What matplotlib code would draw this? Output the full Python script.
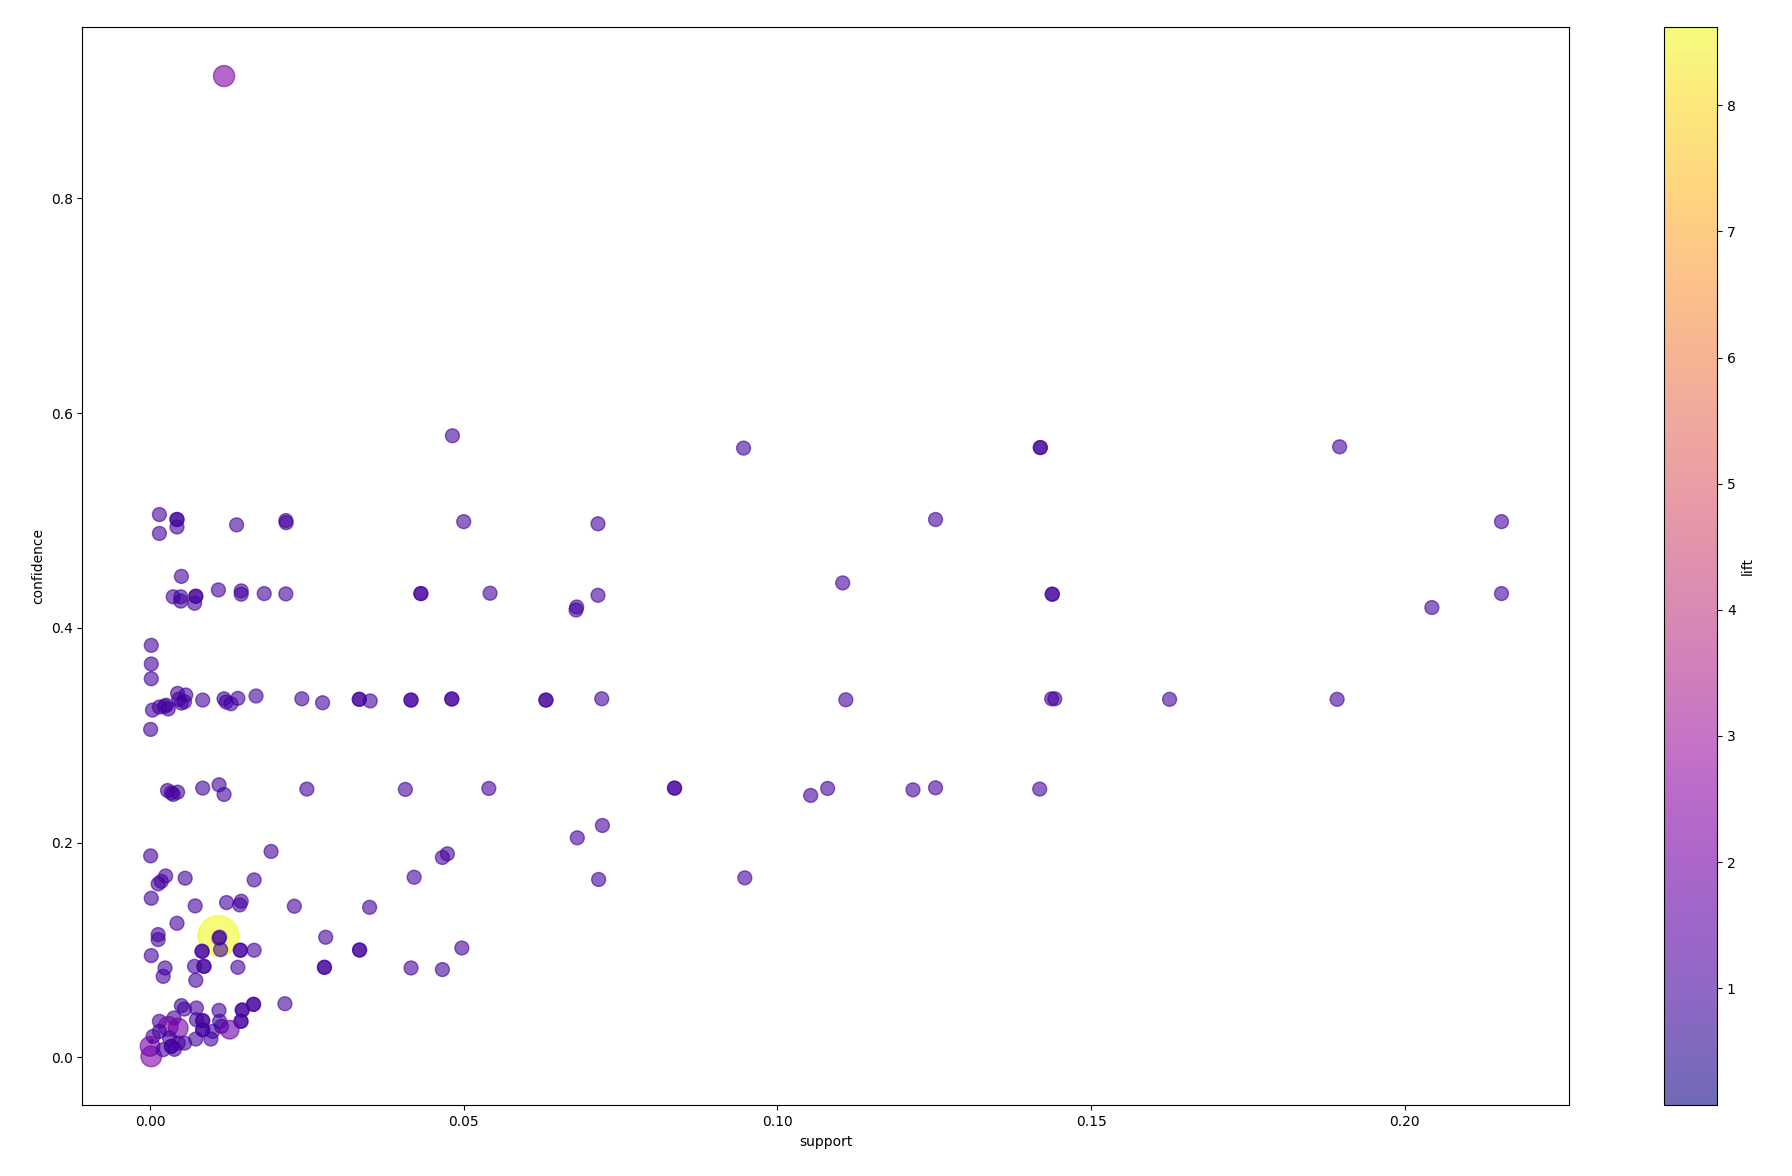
import matplotlib
matplotlib.use("Agg")
import matplotlib.pyplot as plt
import numpy as np

# association rules: (support, confidence, lift)
rules = [
    (0.0118, 0.914, 2.3),
    (0.0482, 0.579, 1.0), (0.0946, 0.5675, 1.0), (0.1419, 0.568, 1.0), (0.1419, 0.568, 1.0),
    (0.1896, 0.5687, 1.0),
    # ~0.5
    (0.0015, 0.5056, 1.0), (0.0043, 0.501, 1.0), (0.0043, 0.501, 1.0), (0.0043, 0.494, 1.0),
    (0.0015, 0.488, 1.0), (0.0138, 0.496, 1.0), (0.02165, 0.500, 1.0), (0.0217, 0.498, 1.0),
    (0.0500, 0.499, 1.0), (0.0714, 0.497, 1.0), (0.1252, 0.501, 1.0), (0.2154, 0.499, 1.0),
    # ~0.43
    (0.0050, 0.448, 1.0), (0.0037, 0.429, 1.0), (0.0049, 0.429, 1.0), (0.0049, 0.425, 1.0),
    (0.0073, 0.4295, 1.0), (0.0073, 0.4295, 1.0), (0.0071, 0.423, 1.0), (0.0109, 0.4354, 1.0),
    (0.01454, 0.4345, 1.0), (0.01454, 0.4314, 1.0), (0.0182, 0.432, 1.0), (0.02165, 0.4317, 1.0),
    (0.04317, 0.432, 1.0), (0.04317, 0.432, 1.0), (0.0542, 0.4323, 1.0), (0.0680, 0.4195, 1.0),
    (0.0679, 0.4167, 1.0), (0.0714, 0.4304, 1.0), (0.1104, 0.4419, 1.0), (0.1438, 0.4314, 1.0),
    (0.1438, 0.4314, 1.0), (0.2043, 0.419, 1.0), (0.2154, 0.432, 1.0),
    # x ~ 0 column
    (0.0002, 0.3838, 1.0), (0.0002, 0.3664, 1.0), (0.0002, 0.3527, 1.0), (0.0001, 0.3055, 1.0),
    (0.0004, 0.3235, 1.0),
    # ~0.333
    (0.0015, 0.3263, 1.0), (0.0026, 0.328, 1.0), (0.0029, 0.3245, 1.0), (0.0023, 0.327, 1.0),
    (0.0044, 0.339, 1.0), (0.0046, 0.3335, 1.0), (0.0050, 0.330, 1.0), (0.0057, 0.3375, 1.0),
    (0.0055, 0.3313, 1.0), (0.0084, 0.3328, 1.0), (0.0118, 0.334, 1.0), (0.01215, 0.331, 1.0),
    (0.0129, 0.3294, 1.0), (0.0140, 0.3344, 1.0), (0.0169, 0.3366, 1.0), (0.0242, 0.334, 1.0),
    (0.0275, 0.3303, 1.0), (0.03336, 0.3335, 1.0), (0.03336, 0.3335, 1.0), (0.0351, 0.332, 1.0),
    (0.0416, 0.3328, 1.0), (0.0416, 0.3328, 1.0), (0.0481, 0.3338, 1.0), (0.0481, 0.3338, 1.0),
    (0.0631, 0.3328, 1.0), (0.0631, 0.3328, 1.0), (0.0720, 0.334, 1.0), (0.1109, 0.3331, 1.0),
    (0.1437, 0.334, 1.0), (0.1442, 0.334, 1.0), (0.1625, 0.3335, 1.0), (0.1892, 0.3335, 1.0),
    # ~0.25
    (0.0028, 0.2486, 1.0), (0.0034, 0.2464, 1.0), (0.0037, 0.2449, 1.0), (0.0044, 0.247, 1.0),
    (0.0084, 0.2508, 1.0), (0.0110, 0.2539, 1.0), (0.0118, 0.2449, 1.0), (0.0250, 0.2499, 1.0),
    (0.0407, 0.2496, 1.0), (0.0540, 0.2505, 1.0), (0.0836, 0.2508, 1.0), (0.0836, 0.2508, 1.0),
    (0.1053, 0.244, 1.0), (0.1080, 0.2505, 1.0), (0.1216, 0.2492, 1.0), (0.1252, 0.2511, 1.0),
    (0.1418, 0.2499, 1.0),
    # 0.1 - 0.22
    (0.0721, 0.216, 1.0), (0.0681, 0.2045, 1.0), (0.0474, 0.1896, 1.0), (0.0466, 0.1862, 1.0),
    (0.0421, 0.1678, 1.0), (0.0715, 0.1657, 1.0), (0.0948, 0.1672, 1.0), (0.0350, 0.1398, 1.0),
    (0.0001, 0.1877, 1.0), (0.0193, 0.1918, 1.0), (0.0025, 0.169, 1.0), (0.0018, 0.164, 1.0),
    (0.0013, 0.1616, 1.0), (0.0056, 0.1669, 1.0), (0.0166, 0.1653, 1.0), (0.0002, 0.1482, 1.0),
    (0.0072, 0.1411, 1.0), (0.0122, 0.1442, 1.0), (0.01454, 0.1454, 1.0), (0.0143, 0.142, 1.0),
    (0.0230, 0.1408, 1.0), (0.0043, 0.1249, 1.0), (0.0280, 0.1119, 1.0), (0.0013, 0.1144, 1.0),
    (0.0013, 0.1097, 1.0), (0.0109, 0.1130, 8.62), (0.0110, 0.1110, 1.0), (0.0111, 0.1120, 1.0),
    # 0.05 - 0.1
    (0.0334, 0.1000, 1.0), (0.0334, 0.1000, 1.0), (0.0497, 0.1019, 1.0), (0.0416, 0.0833, 1.0),
    (0.0466, 0.0818, 1.0), (0.0002, 0.0948, 1.0), (0.0083, 0.0988, 1.0), (0.0083, 0.0988, 1.0),
    (0.01125, 0.1004, 1.0), (0.0144, 0.0998, 1.0), (0.0144, 0.0998, 1.0), (0.0166, 0.0998, 1.0),
    (0.0024, 0.0833, 1.0), (0.0021, 0.0755, 1.0), (0.0071, 0.0848, 1.0), (0.0086, 0.0848, 1.0),
    (0.0086, 0.0848, 1.0), (0.0140, 0.0839, 1.0), (0.0073, 0.0718, 1.0), (0.0278, 0.0839, 1.0),
    (0.0278, 0.0839, 1.0), (0.0215, 0.0500, 1.0),
    # < 0.05
    (0.0165, 0.0494, 1.0), (0.0165, 0.0494, 1.0), (0.0147, 0.0441, 1.0), (0.0147, 0.0441, 1.0),
    (0.0145, 0.0336, 1.0), (0.0145, 0.0336, 1.0), (0.0110, 0.0438, 1.0), (0.0050, 0.0482, 1.0),
    (0.0055, 0.045, 1.0), (0.0074, 0.046, 1.0), (0.0074, 0.0351, 1.0), (0.0084, 0.0342, 1.0),
    (0.0084, 0.0342, 1.0), (0.0084, 0.0258, 1.0), (0.0084, 0.0258, 1.0), (0.0015, 0.0336, 1.0),
    (0.0038, 0.0367, 1.0), (0.0029, 0.0289, 2.0), (0.0045, 0.0273, 2.0), (0.0111, 0.0336, 1.0),
    (0.0114, 0.0289, 1.0), (0.0127, 0.0258, 1.8), (0.0097, 0.0171, 1.0), (0.0073, 0.0171, 1.0),
    (0.0055, 0.0133, 1.0), (0.0005, 0.0196, 1.0), (0.0002, 0.0149, 0.07), (0.0034, 0.0103, 1.0),
    (0.0034, 0.0103, 1.0), (0.0045, 0.0133, 1.0), (0.0039, 0.0075, 1.0), (0.0002, 0.0009, 2.2),
    (0.0000, 0.0103, 2.0), (0.0021, 0.0072, 1.0), (0.0015, 0.0242, 1.0), (0.0031, 0.018, 1.0),
    (0.0100, 0.0242, 1.0),
]

support = [r[0] for r in rules]
confidence = [r[1] for r in rules]
lift = [r[2] for r in rules]

fig = plt.figure(figsize=(17.92, 11.76), dpi=100)
ax = fig.add_axes([0.046, 0.060, 0.8296, 0.917])
cax = fig.add_axes([0.9286, 0.060, 0.0296, 0.917])

sc = ax.scatter(support, confidence, c=lift, s=np.array(lift) * 100,
                cmap="plasma", alpha=0.6)
ax.set_xlabel("support")
ax.set_ylabel("confidence")

cb = fig.colorbar(sc, cax=cax)
cb.set_label("lift")

fig.savefig("out.png", dpi=100)
